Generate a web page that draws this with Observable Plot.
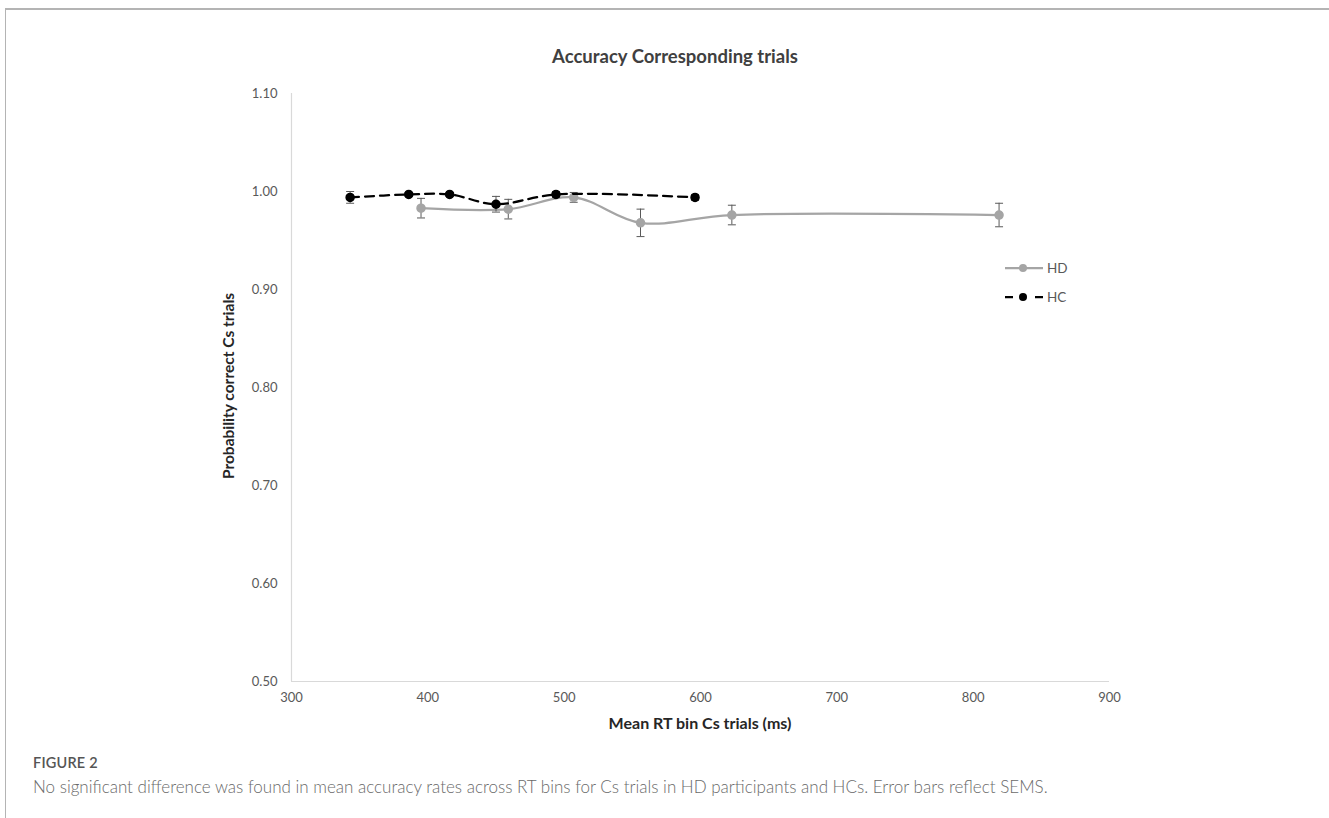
<!DOCTYPE html>
<html>
<head>
<meta charset="utf-8">
<script src="https://cdn.jsdelivr.net/npm/d3@7"></script>
<script src="https://cdn.jsdelivr.net/npm/@observablehq/plot@0.6"></script>
<style>
  html, body { margin: 0; padding: 0; background: #fff; }
  #page { position: relative; width: 1329px; height: 818px; overflow: hidden; font-family: Lato, "Open Sans", sans-serif; }
  #frame { position: absolute; left: 5px; top: 8px; width: 1330px; height: 820px; border-top: 2px solid #b4b4b4; border-left: 1px solid #b4b4b4; }
  #chart { position: absolute; left: 0; top: 0; }
  .t { position: absolute; white-space: nowrap; }
  #title { left: 675px; top: 56px; transform: translate(-50%, -50%); font-weight: bold; font-size: 18.5px; color: #404040; }
  #ytitle { left: 228px; top: 386px; transform: translate(-50%, -50%) rotate(-90deg); font-weight: bold; font-size: 15.5px; color: #262626; }
  #xtitle { left: 700px; top: 722px; transform: translate(-50%, -50%); font-weight: bold; font-size: 16px; color: #262626; }
  #fig { left: 33px; top: 762px; transform: translateY(-50%); font-size: 14.5px; color: #555; font-weight: 600; letter-spacing: 0.2px; }
  #cap { left: 33px; top: 786px; transform: translateY(-50%); font-size: 17px; color: #6a6a6a; font-weight: 300; }
</style>
</head>
<body>
<div id="page">
  <div id="frame"></div>
  <div id="chart"></div>
  <div class="t" id="title">Accuracy Corresponding trials</div>
  <div class="t" id="ytitle">Probability correct Cs trials</div>
  <div class="t" id="xtitle">Mean RT bin Cs trials (ms)</div>
  <div class="t" id="fig">FIGURE 2</div>
  <div class="t" id="cap">No significant difference was found in mean accuracy rates across RT bins for Cs trials in HD participants and HCs. Error bars reflect SEMS.</div>
</div>
<script>
// Data
const seriesNames = ["HD", "HC"];
const rtHD  = [395, 459, 507, 556, 623, 819];
const accHD = [0.983, 0.982, 0.994, 0.968, 0.976, 0.976];
const semHD = [0.010, 0.010, 0.005, 0.014, 0.010, 0.012];
const rtHC  = [343, 386, 416, 450, 494, 596];
const accHC = [0.994, 0.997, 0.997, 0.987, 0.997, 0.994];
const semHC = [0.006, 0.002, 0.002, 0.008, 0.003, 0.003];
const xTicks = [300, 400, 500, 600, 700, 800, 900];
const yTicks = [0.5, 0.6, 0.7, 0.8, 0.9, 1.0, 1.1];

const hd = rtHD.map((x, i) => ({x, y: accHD[i], e: semHD[i]}));
const hc = rtHC.map((x, i) => ({x, y: accHC[i], e: semHC[i]}));

const colHD = "#a5a5a5", colHC = "#000000", colErr = "#595959";

// horizontal cap symbol for error bars (pixel sized)
const cap = { draw(ctx, size) { const w = Math.sqrt(size) / 2; ctx.moveTo(-w, 0); ctx.lineTo(w, 0); } };

function errMarks(data) {
  return [
    Plot.ruleX(data, {x: "x", y1: d => d.y - d.e, y2: d => d.y + d.e, stroke: colErr, strokeWidth: 1}),
    Plot.dot(data, {x: "x", y: d => d.y - d.e, symbol: cap, r: 4.5, stroke: colErr, strokeWidth: 1, fill: "none"}),
    Plot.dot(data, {x: "x", y: d => d.y + d.e, symbol: cap, r: 4.5, stroke: colErr, strokeWidth: 1, fill: "none"})
  ];
}

const chart = Plot.plot({
  width: 1329,
  height: 740,
  marginLeft: 291,
  marginRight: 220,
  marginTop: 93,
  marginBottom: 59,
  style: {fontFamily: "Lato, 'Open Sans', sans-serif", fontSize: "13px", color: "#595959", background: "transparent", overflow: "visible"},
  x: {domain: [300, 900]},
  y: {domain: [0.5, 1.1]},
  marks: [
    Plot.axisX({ticks: xTicks, tickSize: 0, tickPadding: 11, tickFormat: d3.format("d"), label: null, fontSize: 13, fill: "#595959"}),
    Plot.axisY({ticks: yTicks, tickSize: 0, tickPadding: 14, tickFormat: d3.format(".2f"), label: null, fontSize: 13, fill: "#595959"}),
    Plot.ruleX([300], {stroke: "#d9d9d9", strokeWidth: 1.2}),
    Plot.ruleY([0.5], {stroke: "#d9d9d9", strokeWidth: 1.2}),
    // HD
    Plot.line(hd, {x: "x", y: "y", stroke: colHD, strokeWidth: 2.25, curve: "catmull-rom"}),
    ...errMarks(hd),
    Plot.dot(hd, {x: "x", y: "y", r: 4, fill: colHD, stroke: colHD}),
    // HC
    Plot.line(hc, {x: "x", y: "y", stroke: colHC, strokeWidth: 2.25, strokeDasharray: "9,6", curve: "catmull-rom"}),
    ...errMarks(hc),
    Plot.dot(hc, {x: "x", y: "y", r: 4, fill: colHC, stroke: colHC})
  ]
});
document.getElementById("chart").appendChild(chart);

// Legend
const leg = d3.select("#page").append("svg")
  .attr("width", 120).attr("height", 60)
  .style("position", "absolute").style("left", "1000px").style("top", "253px");
const entries = [
  {name: seriesNames[0], col: colHD, dash: null, y: 15},
  {name: seriesNames[1], col: colHC, dash: "8,22,8", y: 44}
];
entries.forEach(e => {
  leg.append("line").attr("x1", 5).attr("x2", 43).attr("y1", e.y).attr("y2", e.y)
    .attr("stroke", e.col).attr("stroke-width", 2.25).attr("stroke-dasharray", e.dash);
  leg.append("circle").attr("cx", 23).attr("cy", e.y).attr("r", 4).attr("fill", e.col);
  leg.append("text").attr("x", 47).attr("y", e.y).attr("dy", "0.35em")
    .attr("font-family", "Lato, 'Open Sans', sans-serif").attr("font-size", 13.5).attr("fill", "#595959").text(e.name);
});
</script>
</body>
</html>
